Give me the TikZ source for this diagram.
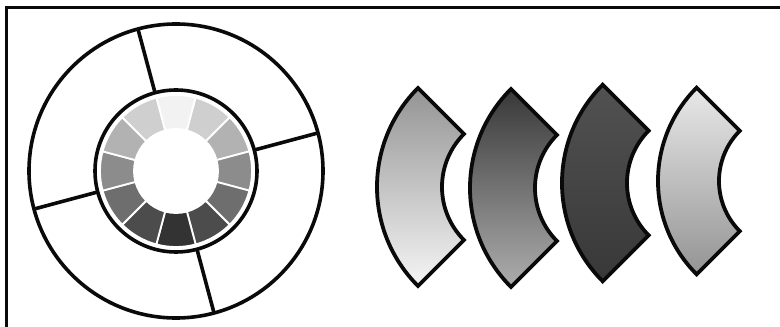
\documentclass[tikz,border=0pt]{standalone}
\usepackage{xcolor}
\usetikzlibrary{calc}
\definecolor{inkdark}{RGB}{10,10,10}
\begin{document}
\begin{tikzpicture}[
  x=1pt, y=1pt,
  rim/.style={draw=inkdark, line width=3.6pt},
  spoke/.style={draw=inkdark, line width=3.6pt},
  tile/.style={draw=white, line width=1.8pt},
  piece/.style={draw=inkdark, line width=3.8pt, line join=miter},
  frameline/.style={draw=inkdark, line width=3pt}
]
\useasboundingbox (0,0) rectangle (780,327);

% Frame (top and left edges only)
\draw[frameline] (6.5,0) -- (6.5,319.5) -- (780,319.5);

% Wheel
\coordinate (hub) at (176,156);
\foreach \k/\g in {0/95,1/81,2/70,3/55,4/43,5/30,6/20,7/30,8/43,9/55,10/70,11/81}{
  \pgfmathsetmacro{\a}{90-30*\k}
  \filldraw[tile, fill=black!\the\numexpr100-\g\relax!white]
    ($(hub)+(\a-15:76)$) arc[start angle=\a-15, end angle=\a+15, radius=76]
    -- ($(hub)+(\a+15:42)$) arc[start angle=\a+15, end angle=\a-15, radius=42]
    -- cycle;
}
\draw[rim] (hub) circle[radius=81];
\draw[rim] (hub) circle[radius=147];
\foreach \a in {15,105,195,285}
  \draw[spoke] ($(hub)+(\a:81)$) -- ($(hub)+(\a:147)$);

% Separate ring pieces
\foreach \n/\cx/\cy/\R/\r/\tc/\bc in {
    one/517/140/140/75/black!42/black!4,
    two/610/139/140/75/black!78/black!32,
    three/701/144/139/74/black!68/black!78,
    four/790/146/132/71/black!9/black!42}{
  \coordinate (\n) at (\cx,\cy);
  \draw[piece, top color=\tc, bottom color=\bc]
    ($(\n)+(135:\R)$) arc[start angle=135, end angle=225, radius=\R]
    -- ($(\n)+(225:\r)$) arc[start angle=225, end angle=135, radius=\r]
    -- cycle;
}
\end{tikzpicture}
\end{document}
